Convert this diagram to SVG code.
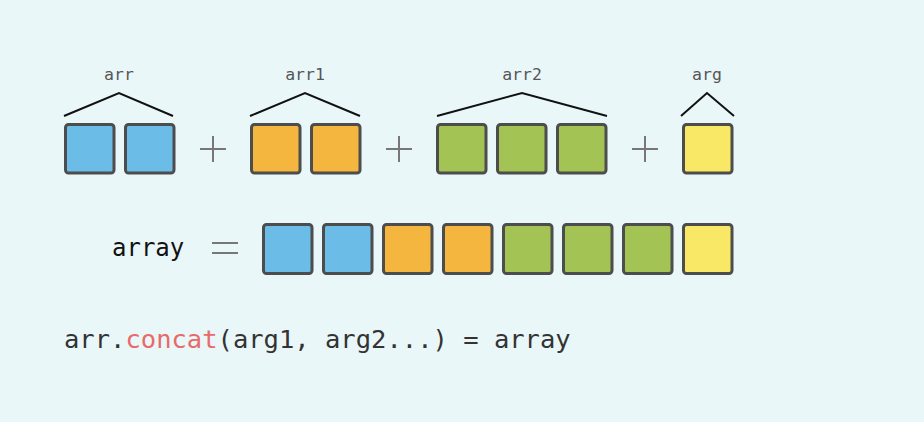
<svg xmlns="http://www.w3.org/2000/svg" width="924" height="422" viewBox="0 0 924 422">
<style>
.bx{stroke:#4d4d4d;stroke-width:3;}
.b{fill:#6bbde7}.o{fill:#f5b63f}.g{fill:#a3c454}.y{fill:#f9e865}
.br{fill:none;stroke:#111;stroke-width:2}
.op{stroke:#777;stroke-width:2;fill:none}
.lbl{font-family:"DejaVu Sans Mono","Liberation Mono",monospace;font-size:16.5px;fill:#555;text-anchor:middle}
.code{font-family:"DejaVu Sans Mono","Liberation Mono",monospace;font-size:25.5px;fill:#333}
</style>
<rect width="924" height="422" fill="#eaf7f9"/>
<g id="arr">
<text class="lbl" x="119" y="80">arr</text>
<rect class="bx b" x="65.5" y="124.5" width="48.5" height="48.5" rx="3"/>
<rect class="bx b" x="125.5" y="124.5" width="48.5" height="48.5" rx="3"/>
</g>
<g id="arr1">
<text class="lbl" x="305" y="80">arr1</text>
<rect class="bx o" x="251.5" y="124.5" width="48.5" height="48.5" rx="3"/>
<rect class="bx o" x="311.5" y="124.5" width="48.5" height="48.5" rx="3"/>
</g>
<g id="arr2">
<text class="lbl" x="522" y="80">arr2</text>
<rect class="bx g" x="437.5" y="124.5" width="48.5" height="48.5" rx="3"/>
<rect class="bx g" x="497.5" y="124.5" width="48.5" height="48.5" rx="3"/>
<rect class="bx g" x="557.5" y="124.5" width="48.5" height="48.5" rx="3"/>
</g>
<g id="arg">
<text class="lbl" x="707" y="80">arg</text>
<rect class="bx y" x="683.5" y="124.5" width="48.5" height="48.5" rx="3"/>
</g>
<g id="connectors">
<polyline class="br" points="64,116 119,93 173,116"/>
<polyline class="br" points="250,116 305,93 360,116"/>
<polyline class="br" points="437,116 522,93 607,116"/>
<polyline class="br" points="681,116 707,93 734,116"/>
<path class="op" d="M200,149H226M213,136V162"/>
<path class="op" d="M386,149H412M399,136V162"/>
<path class="op" d="M632,149H658M645,136V162"/>
<path class="op" d="M212,243H238M212,253H238"/>
</g>
<g id="result">
<text x="112" y="256" style="font-family:'DejaVu Sans Mono','Liberation Mono',monospace;font-size:24px;fill:#111">array</text>
<rect class="bx b" x="263.5" y="224.5" width="48.5" height="49" rx="3"/>
<rect class="bx b" x="323.5" y="224.5" width="48.5" height="49" rx="3"/>
<rect class="bx o" x="383.5" y="224.5" width="48.5" height="49" rx="3"/>
<rect class="bx o" x="443.5" y="224.5" width="48.5" height="49" rx="3"/>
<rect class="bx g" x="503.5" y="224.5" width="48.5" height="49" rx="3"/>
<rect class="bx g" x="563.5" y="224.5" width="48.5" height="49" rx="3"/>
<rect class="bx g" x="623.5" y="224.5" width="48.5" height="49" rx="3"/>
<rect class="bx y" x="683.5" y="224.5" width="48.5" height="49" rx="3"/>
</g>
<g id="code">
<text class="code" x="64" y="348">arr.<tspan fill="#e86a6a">concat</tspan>(arg1, arg2...) = array</text>
</g>
</svg>
